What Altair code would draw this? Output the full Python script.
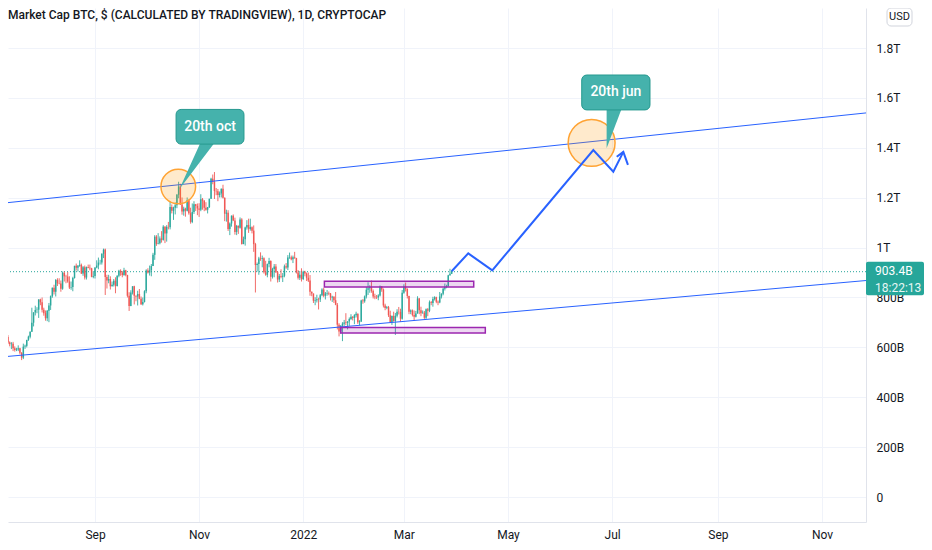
import altair as alt
import pandas as pd

# ---------------- candle data: BTC market cap, billions USD, daily from 2021-07-10 ----------------
first_open = 634

close_jul = [628, 642, 620, 613, 615, 596, 589, 591, 596, 578, 559, 603, 606, 630, 643, 663, 699, 740, 750, 751, 792, 781]
high_jul = [643, 649, 649, 624, 621, 622, 604, 598, 608, 598, 581, 615, 611, 630, 647, 664, 759, 741, 767, 761, 793, 795]
low_jul = [619, 624, 613, 604, 593, 585, 583, 585, 585, 572, 549, 553, 594, 600, 626, 636, 662, 684, 728, 737, 718, 769]

close_aug = [751, 737, 717, 747, 768, 805, 839, 823, 870, 857, 856, 835, 899, 885, 884, 864, 840, 842, 878, 927, 919, 927, 931, 896, 921, 880, 922, 919, 917, 883, 886]
high_aug = [800, 759, 748, 750, 778, 808, 840, 851, 874, 877, 877, 868, 904, 904, 891, 902, 885, 864, 883, 927, 936, 930, 949, 936, 926, 928, 924, 932, 932, 919, 906]
low_aug = [740, 727, 707, 705, 701, 750, 799, 812, 804, 846, 853, 823, 831, 864, 857, 859, 834, 831, 825, 876, 908, 904, 923, 894, 887, 872, 872, 917, 909, 881, 877]

close_sep = [920, 928, 940, 940, 975, 992, 882, 868, 874, 845, 851, 867, 846, 887, 907, 900, 890, 909, 890, 807, 766, 820, 845, 807, 804, 814, 795, 773, 782, 825]
high_sep = [921, 949, 960, 951, 977, 996, 996, 891, 891, 885, 864, 874, 881, 889, 911, 913, 906, 919, 911, 891, 821, 829, 845, 847, 808, 827, 834, 804, 800, 829]
low_sep = [876, 917, 913, 932, 932, 958, 810, 836, 857, 832, 844, 844, 817, 844, 881, 887, 881, 887, 885, 800, 746, 765, 812, 772, 785, 768, 793, 770, 768, 780]

close_oct = [908, 900, 909, 926, 971, 1044, 1015, 1017, 1037, 1031, 1084, 1057, 1083, 1082, 1163, 1148, 1160, 1170, 1212, 1245, 1173, 1145, 1156, 1148, 1190, 1138, 1103, 1143, 1174, 1167, 1157]
high_oct = [913, 917, 928, 934, 979, 1050, 1050, 1058, 1045, 1066, 1090, 1086, 1090, 1103, 1184, 1173, 1164, 1181, 1215, 1264, 1256, 1201, 1164, 1160, 1201, 1194, 1160, 1177, 1186, 1175, 1177]
low_oct = [817, 896, 888, 885, 926, 951, 1007, 1013, 1013, 1020, 1028, 1018, 1024, 1073, 1073, 1137, 1111, 1133, 1158, 1198, 1171, 1132, 1128, 1124, 1145, 1132, 1096, 1098, 1135, 1147, 1130]

close_nov = [1152, 1194, 1188, 1160, 1152, 1162, 1196, 1276, 1264, 1227, 1226, 1211, 1217, 1236, 1200, 1136, 1140, 1075, 1097, 1128, 1109, 1063, 1087, 1080, 1113, 1014, 1033, 1081, 1091, 1075]
high_nov = [1178, 1214, 1199, 1191, 1182, 1163, 1196, 1280, 1293, 1303, 1239, 1235, 1225, 1237, 1252, 1201, 1152, 1150, 1101, 1129, 1133, 1120, 1091, 1089, 1121, 1118, 1044, 1084, 1110, 1116]
low_nov = [1123, 1146, 1152, 1146, 1148, 1137, 1159, 1195, 1254, 1195, 1210, 1186, 1201, 1201, 1197, 1106, 1104, 1067, 1050, 1084, 1106, 1052, 1050, 1055, 1076, 1012, 1014, 1008, 1072, 1059]

close_dec = [1082, 1068, 1014, 930, 934, 956, 954, 957, 901, 891, 934, 946, 883, 914, 924, 901, 872, 886, 883, 887, 925, 920, 960, 961, 953, 961, 958, 900, 879, 891, 874]
high_dec = [1116, 1085, 1089, 1019, 940, 963, 981, 968, 961, 947, 936, 959, 949, 919, 934, 934, 906, 894, 913, 898, 932, 938, 970, 980, 968, 968, 983, 959, 910, 906, 917]
low_dec = [1068, 1057, 983, 820, 904, 891, 947, 921, 896, 887, 881, 921, 864, 876, 881, 898, 860, 862, 877, 862, 881, 915, 910, 955, 949, 938, 955, 896, 872, 870, 864]

close_jan = [903, 896, 879, 868, 823, 816, 787, 789, 793, 792, 809, 832, 807, 816, 818, 816, 800, 803, 789, 771, 691, 664, 687, 695, 700, 698, 704, 714, 723, 718, 729]
high_jan = [907, 907, 900, 900, 890, 824, 816, 801, 811, 799, 814, 837, 839, 822, 830, 824, 818, 807, 805, 822, 778, 697, 689, 701, 710, 737, 705, 720, 733, 725, 733]
low_jan = [870, 885, 866, 862, 807, 805, 778, 769, 780, 752, 782, 805, 801, 792, 807, 809, 788, 782, 778, 769, 672, 644, 655, 625, 686, 689, 672, 686, 710, 708, 693]

close_feb = [735, 701, 704, 788, 785, 804, 831, 837, 841, 826, 804, 801, 800, 808, 844, 832, 768, 758, 761, 729, 702, 726, 706, 727, 743, 742, 715, 819]
high_feb = [743, 736, 709, 791, 794, 808, 842, 861, 849, 868, 832, 815, 810, 813, 848, 846, 836, 775, 766, 766, 747, 728, 743, 738, 753, 762, 755, 830]
low_feb = [720, 694, 688, 702, 775, 779, 796, 810, 819, 819, 796, 793, 794, 789, 804, 823, 760, 749, 753, 722, 698, 690, 703, 650, 720, 732, 702, 711]

close_mar = [844, 834, 806, 743, 748, 730, 723, 736, 796, 749, 737, 739, 719, 753, 747, 781, 778, 794, 801, 783, 780, 804, 815, 835, 842, 846, 889, 895, 903.4]
high_mar = [853, 860, 837, 807, 752, 752, 748, 746, 805, 798, 763, 748, 746, 756, 758, 788, 786, 803, 805, 803, 788, 822, 817, 839, 856, 851, 891, 915, 908]
low_mar = [815, 824, 796, 733, 733, 724, 706, 720, 735, 733, 725, 735, 714, 714, 725, 741, 769, 763, 788, 777, 769, 777, 796, 809, 828, 837, 843, 887, 894]

# ---------------- drawings (dates, values in billions) ----------------
last_price = [903.4]
price_tag_top_bottom = [943, 809]
price_tag_texts = ["903.4B", "18:22:13"]

upper_channel_dates = ["2021-07-07T08:00:00Z", "2022-11-26T19:00:00Z"]
upper_channel_values = [1177, 1540]
lower_channel_dates = ["2021-07-07T08:00:00Z", "2022-11-26T19:00:00Z"]
lower_channel_values = [561, 868]

range_start = ["2022-01-13T10:00:00Z", "2022-01-23T00:00:00Z"]
range_end = ["2022-04-10T22:00:00Z", "2022-04-17T17:00:00Z"]
range_top = [865, 680]
range_bottom = [842, 658]

path_dates = ["2022-03-29T00:00:00Z", "2022-04-07T17:00:00Z", "2022-04-21T19:00:00Z",
              "2022-06-20T00:00:00Z", "2022-07-01T17:00:00Z", "2022-07-07T14:00:00Z"]
path_values = [905, 977, 909, 1391, 1304, 1384]
arrow_dates = ["2022-07-03T17:00:00Z", "2022-07-07T14:00:00Z", "2022-07-10T07:00:00Z"]
arrow_values = [1364, 1384, 1332]

circle_dates = ["2021-10-19T19:00:00Z", "2022-06-19T00:00:00Z"]
circle_values = [1245, 1420]

callout_labels = ["20th oct", "20th jun"]
callout_x1 = ["2021-10-18T12:00:00Z", "2022-06-13T05:00:00Z"]
callout_x2 = ["2021-11-27T07:00:00Z", "2022-07-23T05:00:00Z"]
callout_top = [1554, 1692]
callout_bottom = [1415, 1552]
callout_mid_date = ["2021-11-07T10:00:00Z", "2022-07-03T05:00:00Z"]
callout_mid_value = [1484, 1622]

# pointer wedges of the callouts, as (date, upper value, lower value) outlines
pointer_id = [0, 0, 0, 1, 1]
pointer_dates = ["2021-10-20T10:00:00Z", "2021-11-02T12:00:00Z", "2021-11-11T07:00:00Z",
                 "2022-06-27T19:00:00Z", "2022-07-07T05:00:00Z"]
pointer_upper = [1234, 1431, 1431, 1568, 1568]
pointer_lower = [1234, 1352, 1431, 1398, 1568]

title_text = "Market Cap BTC, $ (CALCULATED BY TRADINGVIEW), 1D, CRYPTOCAP"

# ---------------- build tables ----------------
closes = close_jul + close_aug + close_sep + close_oct + close_nov + close_dec + close_jan + close_feb + close_mar
highs = high_jul + high_aug + high_sep + high_oct + high_nov + high_dec + high_jan + high_feb + high_mar
lows = low_jul + low_aug + low_sep + low_oct + low_nov + low_dec + low_jan + low_feb + low_mar
n = min(len(closes), len(highs), len(lows))
closes, highs, lows = closes[:n], highs[:n], lows[:n]
opens = [first_open] + closes[:-1]
dates = pd.date_range("2021-07-10", periods=n, freq="D").strftime("%Y-%m-%d")
candles = pd.DataFrame({"date": dates, "open": opens, "close": closes, "high": highs, "low": lows,
                        "dir": ["up" if c >= o else "down" for o, c in zip(opens, closes)]})

UP, DOWN = "#26a69a", "#ef5350"
BLUE = "#2962ff"
FONT = "Roboto"
W, H = 858, 514

x_scale = alt.Scale(type="utc", domain=[alt.DateTime(year=2021, month=7, date=12, hours=0, minutes=29, utc=True),
                                        alt.DateTime(year=2022, month=11, date=26, hours=18, minutes=43, utc=True)])
y_scale = alt.Scale(domain=[-100.2, 1960.7], nice=False, zero=False)

tick_dates = [alt.DateTime(year=y, month=m, date=1, utc=True) for y, m in
              [(2021, 9), (2021, 11), (2022, 1), (2022, 3), (2022, 5), (2022, 7), (2022, 9), (2022, 11)]]
x_axis = alt.Axis(values=tick_dates, title=None, grid=True, gridColor="#f0f3fa", gridWidth=1,
                  domain=True, domainColor="#e0e3eb", ticks=False, labelColor="#131722", labelFontSize=12,
                  labelFont=FONT, labelPadding=7, labelOverlap=False, labelFlush=False,
                  labelExpr="utcmonth(datum.value) == 0 ? utcFormat(datum.value, '%Y') : utcFormat(datum.value, '%b')")
y_axis = alt.Axis(orient="right", values=[0, 200, 400, 600, 800, 1000, 1200, 1400, 1600, 1800], title=None,
                  grid=True, gridColor="#f0f3fa", gridWidth=1, domain=True, domainColor="#e0e3eb", ticks=False,
                  labelAlign="left", labelPadding=10, labelFontSize=12, labelColor="#131722", labelFont=FONT,
                  labelOverlap=False,
                  labelExpr="datum.value == 0 ? '0' : (datum.value < 1000 ? datum.value + 'B' : format(datum.value / 1000, '~g') + 'T')")

color = alt.Color("dir:N", scale=alt.Scale(domain=["up", "down"], range=[UP, DOWN]), legend=None)

base = alt.Chart(candles).encode(x=alt.X("date:T", scale=x_scale, axis=x_axis, title=None))
wicks = base.mark_rule(strokeWidth=1, strokeOpacity=0.85, clip=True).encode(
    y=alt.Y("low:Q", scale=y_scale, axis=y_axis, title=None), y2="high:Q", color=color)
bodies = base.mark_rule(strokeWidth=1.5, strokeOpacity=0.9, clip=True).encode(
    y=alt.Y("open:Q", title=None), y2="close:Q", color=color)

price_line = alt.Chart(pd.DataFrame({"v": last_price})).mark_rule(
    color=UP, strokeWidth=1, strokeDash=[1, 2], clip=True).encode(y=alt.Y("v:Q", title=None))

chan_df = pd.DataFrame({"line": ["upper"] * 2 + ["lower"] * 2,
                        "date": upper_channel_dates + lower_channel_dates,
                        "value": upper_channel_values + lower_channel_values})
channels = alt.Chart(chan_df).mark_line(color=BLUE, strokeWidth=1, clip=True).encode(
    x=alt.X("date:T", title=None), y=alt.Y("value:Q", title=None), detail="line:N")

rect_df = pd.DataFrame({"s": range_start, "e": range_end, "t": range_top, "b": range_bottom})
ranges = alt.Chart(rect_df).mark_rect(fill="#9c27b0", fillOpacity=0.18, stroke="#9c27b0", strokeWidth=1.5,
                                      clip=True).encode(
    x=alt.X("s:T", title=None), x2="e:T", y=alt.Y("t:Q", title=None), y2="b:Q")

circ_df = pd.DataFrame({"date": circle_dates, "value": circle_values, "d2": [1200, 2200]})
circles = alt.Chart(circ_df).mark_point(shape="circle", filled=True, fill="#ff9800", fillOpacity=0.2,
                                         stroke="#ffa333", strokeWidth=1.5, strokeOpacity=1, opacity=1,
                                         clip=True).encode(
    x=alt.X("date:T", title=None), y=alt.Y("value:Q", title=None), size=alt.Size("d2:Q", scale=None, legend=None))

path_df = pd.DataFrame({"grp": ["path"] * len(path_dates) + ["arrow"] * len(arrow_dates),
                        "date": path_dates + arrow_dates, "value": path_values + arrow_values,
                        "k": list(range(len(path_dates))) + list(range(len(arrow_dates)))})
path = alt.Chart(path_df).mark_line(color=BLUE, strokeWidth=2, clip=True, strokeJoin="miter").encode(
    x=alt.X("date:T", title=None), y=alt.Y("value:Q", title=None), detail="grp:N", order="k:Q")

CALL_FILL, CALL_STROKE = "#45b2ac", "#26998f"
box_df = pd.DataFrame({"x1": callout_x1, "x2": callout_x2, "t": callout_top, "b": callout_bottom})
boxes = alt.Chart(box_df).mark_rect(fill=CALL_FILL, stroke=CALL_STROKE, strokeWidth=1, cornerRadius=5,
                                    clip=True).encode(
    x=alt.X("x1:T", title=None), x2="x2:T", y=alt.Y("t:Q", title=None), y2="b:Q")

ptr_df = pd.DataFrame({"id": pointer_id, "date": pointer_dates, "u": pointer_upper, "l": pointer_lower})
pointers = alt.Chart(ptr_df).mark_area(color=CALL_FILL, opacity=1, clip=True).encode(
    x=alt.X("date:T", title=None), y=alt.Y("u:Q", title=None), y2="l:Q", detail="id:N")

label_df = pd.DataFrame({"date": callout_mid_date, "value": callout_mid_value, "txt": callout_labels})
labels = alt.Chart(label_df).mark_text(color="white", fontSize=14, font=FONT, fontWeight=500,
                                       align="center", baseline="middle").encode(
    x=alt.X("date:T", title=None), y=alt.Y("value:Q", title=None), text="txt:N")

tag_df = pd.DataFrame({"t": [price_tag_top_bottom[0]], "b": [price_tag_top_bottom[1]]})
tag_box = alt.Chart(tag_df).mark_rect(fill=UP, cornerRadius=2).encode(
    x=alt.value(W), x2=alt.value(W + 58), y=alt.Y("t:Q", title=None), y2="b:Q")
tag_txt_df = pd.DataFrame({"v": last_price * 2, "txt": price_tag_texts})
tag_txt1 = alt.Chart(tag_txt_df.iloc[[0]]).mark_text(color="white", fontSize=12, font=FONT, align="left",
                                                    baseline="middle", dy=-1).encode(
    x=alt.value(W + 9), y=alt.Y("v:Q", title=None), text="txt:N")
tag_txt2 = alt.Chart(tag_txt_df.iloc[[1]]).mark_text(color="#e6f6f4", fontSize=12, font=FONT, align="left",
                                                    baseline="middle", dy=16).encode(
    x=alt.value(W + 9), y=alt.Y("v:Q", title=None), text="txt:N")

one = pd.DataFrame({"txt": ["USD"]})
usd_box = alt.Chart(one).mark_rect(fill="white", stroke="#d1d4dc", strokeWidth=1, cornerRadius=4).encode(
    x=alt.value(W + 21), x2=alt.value(W + 46), y=alt.value(0), y2=alt.value(18))
usd_txt = alt.Chart(one).mark_text(color="#131722", fontSize=11, font=FONT, align="center",
                                   baseline="middle").encode(x=alt.value(W + 33.5), y=alt.value(9), text="txt:N")

title_df = pd.DataFrame({"txt": [title_text]})
title = alt.Chart(title_df).mark_text(color="#131722", fontSize=12, font=FONT, fontWeight=500,
                                      align="left", baseline="middle").encode(
    x=alt.value(0), y=alt.value(7), text="txt:N")

chart = alt.layer(
    price_line, wicks, bodies, channels, ranges, circles, path, pointers, boxes, labels,
    tag_box, tag_txt1, tag_txt2, usd_box, usd_txt, title
).properties(
    width=W, height=H,
    autosize=alt.AutoSizeParams(type="none"),
    padding={"left": 0, "top": 0, "right": 58, "bottom": 28},
    background="white",
).configure_view(stroke=None)

chart.save("out.html", embed_options={"renderer": "svg", "actions": False})
